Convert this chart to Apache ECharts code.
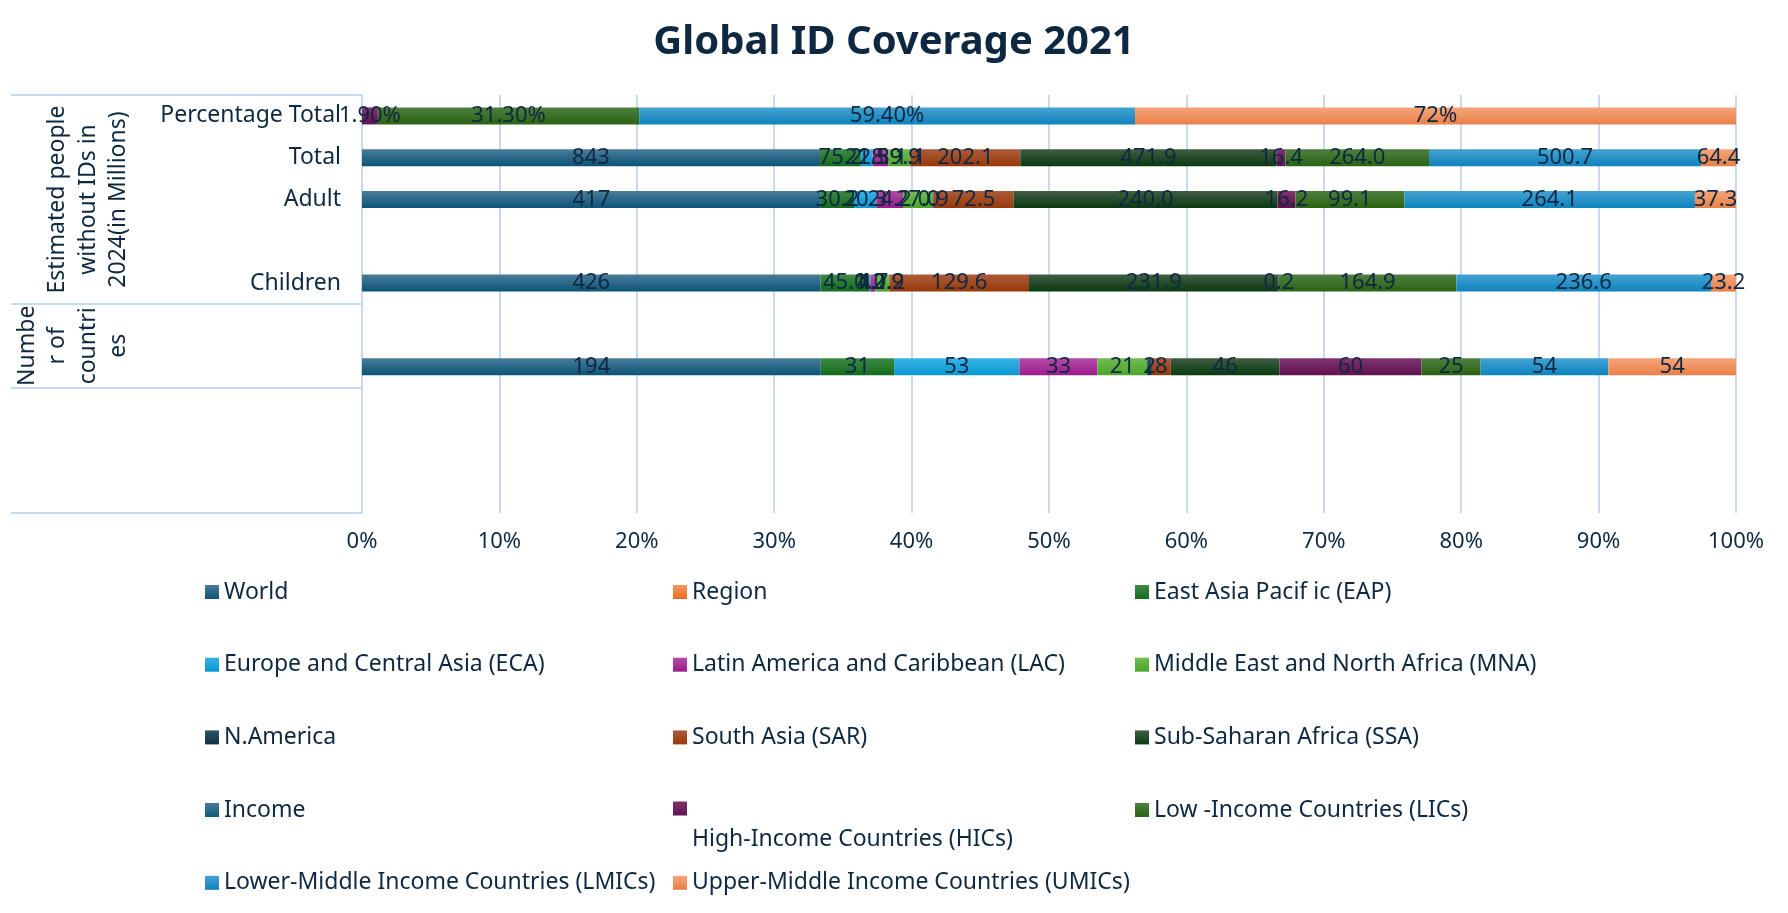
<!DOCTYPE html>
<html>
<head>
<meta charset="utf-8">
<script src="https://cdn.jsdelivr.net/npm/echarts@6/dist/echarts.min.js"></script>
<style>html,body{margin:0;padding:0;background:#fff}#chart{width:1788px;height:913px}</style>
</head>
<body>
<div id="chart"></div>
<script>
// ---------------- DATA ----------------
const categories = ['Percentage Total', 'Total', 'Adult', '', 'Children', '', '', '', '', ''];
const groupLabels = ['Estimated people\nwithout IDs in\n2024(in Millions)', 'Numbe\nr of\ncountri\nes'];
const seriesNames = [
  'World', 'Region', 'East Asia Pacif ic (EAP)',
  'Europe and Central Asia (ECA)', 'Latin America and Caribbean (LAC)', 'Middle East and North Africa (MNA)',
  'N.America', 'South Asia (SAR)', 'Sub-Saharan Africa (SSA)',
  'Income', 'High-Income Countries (HICs)', 'Low -Income Countries (LICs)',
  'Lower-Middle Income Countries (LMICs)', 'Upper-Middle Income Countries (UMICs)'
];
//               PctTot Total  Adult  -     Child  -     Countries
const world    = [null, 843,   417,   null, 426,   null, 194, null, null, null];
const region   = [null, null,  null,  null, null,  null, null, null, null, null];
const eap      = [null, 75.2,  30.2,  null, 45.0,  null, 31,  null, null, null];
const eca      = [null, 21.5,  20.3,  null, 1.2,   null, 53,  null, null, null];
const lac      = [null, 28.9,  24.2,  null, 4.7,   null, 33,  null, null, null];
const mna      = [null, 39.9,  27.0,  null, 12.9,  null, 21,  null, null, null];
const nAmerica = [null, 1.1,   0.9,   null, 0.2,   null, 2,   null, null, null];
const sar      = [null, 202.1, 72.5,  null, 129.6, null, 8,   null, null, null];
const ssa      = [null, 471.9, 240.0, null, 231.9, null, 46,  null, null, null];
const income   = [null, null,  null,  null, null,  null, null, null, null, null];
const hic      = [1.9,  16.4,  16.2,  null, 0.2,   null, 60,  null, null, null];
const lic      = [31.3, 264.0, 99.1,  null, 164.9, null, 25,  null, null, null];
const lmic     = [59.4, 500.7, 264.1, null, 236.6, null, 54,  null, null, null];
const umic     = [72,   64.4,  37.3,  null, 23.2,  null, 54,  null, null, null];
const seriesValues = [world, region, eap, eca, lac, mna, nAmerica, sar, ssa, income, hic, lic, lmic, umic];

// ---------------- STYLE ----------------
const FONT = "'Noto Sans', 'Open Sans', sans-serif";
const INK = '#0e2841';
const GRIDC = '#c7daf2';
const palette = [
  ['#4a7c99', '#0b5377'], // World
  ['#f29a63', '#e86a22'], // Region
  ['#3f8a45', '#136a1e'], // EAP
  ['#3ab2e6', '#0797d2'], // ECA
  ['#b24da7', '#9a1c8c'], // LAC
  ['#70bd50', '#4ca42a'], // MNA
  ['#2f5466', '#0b3142'], // N.America
  ['#ab5c3c', '#983808'], // SAR
  ['#3f5d43', '#0a3a10'], // SSA
  ['#4a7c99', '#0f597b'], // Income
  ['#7e3472', '#62114f'], // HIC
  ['#4d7e3f', '#2a6413'], // LIC
  ['#45a2d2', '#0e83bd'], // LMIC
  ['#f4a57b', '#ea8048']  // UMIC
];
const legendCols = [205, 673, 1135];
const legendRows = [592, 664.7, 737.4, 810, 882.8];
const LEG_FS = 23, LEG_LH = 26, HIC_PAD = 62;

function grad(c) {
  return new echarts.graphic.LinearGradient(0, 0, 0, 1, [
    { offset: 0, color: c[0] }, { offset: 1, color: c[1] }
  ]);
}

const rowSums = categories.map((_, i) =>
  seriesValues.reduce((s, arr) => s + (arr[i] == null ? 0 : arr[i]), 0));

function fmt(si, ci, v) {
  if (ci === 0) return (Number.isInteger(v) ? String(v) : v.toFixed(2)) + '%';
  if (ci === 6 || si === 0) return String(Math.round(v));
  return v.toFixed(1);
}

const series = seriesValues.map((arr, si) => ({
  name: seriesNames[si],
  type: 'bar',
  stack: 'all',
  barWidth: 17,
  yAxisIndex: 0,
  itemStyle: { color: grad(palette[si]) },
  emphasis: { disabled: true },
  label: {
    show: true,
    position: 'inside',
    color: INK,
    fontFamily: FONT,
    fontSize: 22,
    formatter: p => fmt(si, p.dataIndex, arr[p.dataIndex])
  },
  data: arr.map((v, ci) => v == null ? null : (rowSums[ci] ? v / rowSums[ci] * 100 : 0))
}));

const legends = seriesNames.map((name, i) => {
  const col = i % 3, row = Math.floor(i / 3);
  const isHIC = i === 10;
  return {
    data: [name],
    left: legendCols[col],
    top: isHIC ? legendRows[row] - (HIC_PAD + LEG_LH) / 2 : legendRows[row] - LEG_LH / 2,
    padding: 0,
    itemWidth: 14,
    itemHeight: 14,
    icon: 'rect',
    selectedMode: false,
    textStyle: { color: INK, fontFamily: FONT, fontSize: LEG_FS, lineHeight: LEG_LH,
      rich: { h: { color: INK, fontFamily: FONT, fontSize: LEG_FS, lineHeight: LEG_LH, padding: [HIC_PAD, 0, 0, 0] } } },
    formatter: isHIC ? (n => '{h|' + n + '}') : (n => n)
  };
});

const chart = echarts.init(document.getElementById('chart'), null, { renderer: 'canvas' });
chart.setOption({
  animation: false,
  backgroundColor: '#ffffff',
  title: {
    text: 'Global ID Coverage 2021',
    left: 'center',
    top: 19,
    padding: 0,
    textStyle: { color: INK, fontFamily: FONT, fontSize: 40, fontWeight: 'bold', lineHeight: 48 }
  },
  legend: legends,
  grid: { left: 362, right: 52, top: 95, bottom: 400, containLabel: false },
  xAxis: {
    type: 'value', min: 0, max: 100, interval: 10,
    axisLine: { show: false }, axisTick: { show: false },
    axisLabel: { formatter: '{value}%', color: INK, fontFamily: FONT, fontSize: 22, margin: 18 },
    splitLine: { show: true, lineStyle: { color: GRIDC, width: 2 } }
  },
  yAxis: {
    type: 'category', data: categories, inverse: true,
    axisLine: { show: true, lineStyle: { color: GRIDC, width: 2 } },
    axisTick: { show: true, length: 351, interval: (idx) => idx === 0 || idx === 5 || idx === 7,
      lineStyle: { color: GRIDC, width: 2 } },
    axisLabel: { interval: 0, color: INK, fontFamily: FONT, fontSize: 23, margin: 21 }
  },
  series: series
});

// group labels of the multi-level category axis, placed from the axis scale
const yc = i => chart.convertToPixel({ yAxisIndex: 0 }, i);
const g1 = yc(2);
const g2 = (yc(5) + yc(6)) / 2;
chart.setOption({
  graphic: [
    { type: 'text', x: 88, y: g1, rotation: Math.PI / 2,
      style: { text: groupLabels[0], fill: INK, fontFamily: FONT, fontSize: 23, lineHeight: 30.5, align: 'center', verticalAlign: 'middle' } },
    { type: 'text', x: 73, y: g2, rotation: Math.PI / 2,
      style: { text: groupLabels[1], fill: INK, fontFamily: FONT, fontSize: 23, lineHeight: 30.5, align: 'center', verticalAlign: 'middle' } }
  ]
});
</script>
</body>
</html>
